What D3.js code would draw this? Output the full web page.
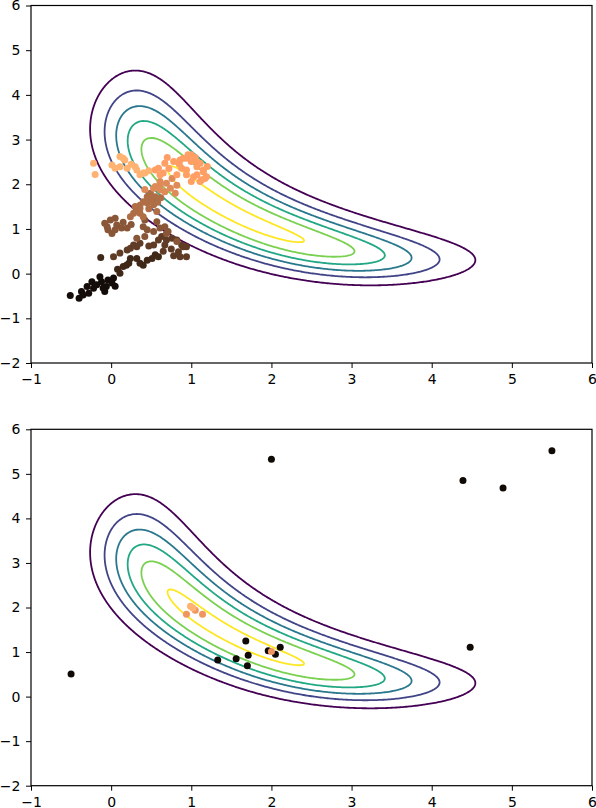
<!DOCTYPE html>
<html>
<head>
<meta charset="utf-8">
<script src="https://cdn.jsdelivr.net/npm/d3@7"></script>
<style>
  body { margin: 0; background: #fff; }
  text { font-family: "DejaVu Sans", sans-serif; }
</style>
</head>
<body>
<svg id="chart" width="596" height="808"></svg>
<script>
// --- axis ticks ---
const xTicks = [-1, 0, 1, 2, 3, 4, 5, 6];
const yTicks = [-2, -1, 0, 1, 2, 3, 4, 5, 6];

// --- target density: banana lying along the line y = x ---
// t runs along the ridge, s across it
const ridgeBase = 2.03;    // s of the ridge at t = 0
const ridgeBend = 0.123;   // s grows with t^2
const widthOuter = 0.48;   // spread across the ridge, away from the origin
const widthInner = 0.465;  // spread across the ridge, towards the origin
const armScale = 2.647;    // quartic fall-off along the ridge
const contourLevels = [0.16, 0.32, 0.48, 0.64, 0.80, 0.96];
const contourColors = ["#440154", "#414487", "#2a788e", "#22a884", "#7ad151", "#fde725"];

// --- top panel: sampler path, grouped by how far along the run (shade 0 = first) ---
const chainShades = [0.06, 0.2, 0.3, 0.43, 0.55, 0.7, 0.8, 0.9];
const chainPoints = [
  // black start
  [[-0.51, -0.49], [-0.40, -0.55], [-0.37, -0.40], [-0.35, -0.48], [-0.30, -0.29], [-0.28, -0.44],
   [-0.24, -0.18], [-0.22, -0.33], [-0.18, -0.25], [-0.14, -0.07], [-0.12, -0.18], [-0.08, -0.40],
   [-0.06, -0.29], [-0.04, -0.14], [0.01, -0.21], [0.03, -0.10], [-0.10, -0.32], [0.05, -0.28]],
  // very dark brown
  [[0.11, 0.01], [0.15, 0.16], [0.19, 0.19], [0.22, 0.23], [0.24, 0.34], [0.32, 0.34], [0.36, 0.23],
   [0.40, 0.19], [0.45, 0.30], [0.51, 0.34], [0.55, 0.42], [0.59, 0.38], [-0.13, 0.36], [0.08, 0.10]],
  // dark brown
  [[0.03, 0.38], [0.11, 0.46], [0.20, 0.53], [0.24, 0.57], [0.28, 0.64], [0.32, 0.60], [0.36, 0.68],
   [0.53, 0.64], [0.59, 0.75], [0.63, 0.83], [0.69, 0.75], [0.67, 0.64], [0.76, 0.79], [0.82, 0.75],
   [0.88, 0.64], [0.94, 0.60], [0.94, 0.38], [0.86, 0.38], [0.84, 0.49], [0.90, 0.60],
   [0.75, 0.55], [0.65, 0.50], [0.47, 0.62], [0.78, 0.40]],
  // medium brown
  [[0.32, 0.79], [0.42, 0.83], [0.71, 0.94], [0.61, 1.02], [0.53, 0.94], [0.45, 0.98], [0.40, 1.05],
   [0.42, 1.20], [0.57, 1.16], [0.67, 1.05], [0.69, 0.90], [0.82, 0.72],
   [-0.08, 1.13], [-0.01, 1.20], [0.05, 1.24], [0.07, 1.09], [0.13, 1.02], [0.20, 1.02],
   [-0.04, 0.98], [0.01, 0.90], [0.05, 0.98], [0.15, 1.15], [0.25, 1.10], [-0.05, 1.05]],
  // light brown
  [[0.24, 1.27], [0.32, 1.42], [0.36, 1.53], [0.40, 1.61], [0.45, 1.72], [0.49, 1.80], [0.55, 1.72],
   [0.57, 1.39], [0.36, 1.35], [0.36, 1.46], [0.40, 1.27], [0.45, 1.58], [0.53, 1.54], [0.51, 1.72],
   [0.30, 1.50], [0.47, 1.45], [0.50, 1.62], [0.58, 1.60], [0.28, 1.35], [0.62, 1.70]],
  // orange
  [[0.53, 1.91], [0.61, 1.98], [0.67, 1.83], [0.74, 1.91], [0.80, 1.80], [0.82, 1.98], [0.55, 1.95],
   [0.61, 1.87], [0.61, 2.06], [0.69, 2.02], [0.76, 2.13], [0.42, 1.88]],
  // light orange, around the mode
  [[0.65, 2.25], [0.55, 2.32], [0.61, 2.21], [0.59, 2.36], [0.67, 2.47], [0.78, 2.51], [0.86, 2.54],
   [0.94, 2.58], [1.00, 2.51], [1.07, 2.39], [1.15, 2.28], [1.19, 2.17], [1.13, 2.10], [1.07, 2.21],
   [0.94, 2.32], [0.82, 2.21], [0.90, 2.58], [0.96, 2.66], [1.00, 2.66], [1.07, 2.51], [1.15, 2.32],
   [1.17, 2.13], [1.11, 2.06], [1.00, 2.06], [0.94, 2.21], [0.88, 2.36], [1.11, 2.47], [1.03, 2.17],
   [0.72, 2.35], [0.70, 2.60], [0.85, 2.45], [1.05, 2.60], [1.20, 2.40]],
  // peach, last part of the run
  [[-0.22, 2.47], [-0.20, 2.22], [0.01, 2.43], [0.05, 2.36], [0.11, 2.62], [0.17, 2.54], [0.11, 2.39],
   [0.15, 2.58], [0.20, 2.36], [0.42, 2.25], [0.36, 2.21], [0.32, 2.32], [0.30, 2.39], [0.40, 2.25],
   [0.25, 2.45], [0.47, 2.30]]
];

// --- bottom panel: selected points ---
const pickShades = [0.05, 0.75, 0.9];
const pickPoints = [
  [[-0.50, 0.51], [5.50, 5.52], [4.39, 4.85], [4.89, 4.68], [4.48, 1.11], [2.00, 5.33],
   [1.68, 1.25], [1.33, 0.82], [1.56, 0.85], [1.71, 0.93], [1.70, 0.69], [2.11, 1.11],
   [2.05, 0.95], [1.96, 1.03]],
  [[0.94, 1.85], [1.14, 1.85], [1.05, 1.94], [2.00, 1.01]],
  [[0.99, 2.03], [1.02, 1.99]]
];

// --- layout ---
const width = 596, height = 808;
const plotLeft = 31, plotRight = 592;
const panels = [
  { top: 5.5, bottom: 363, groups: chainPoints, shades: chainShades },
  { top: 429.3, bottom: 785.7, groups: pickPoints, shades: pickShades }
];

const svg = d3.select("#chart");
const x = d3.scaleLinear().domain([-1, 6]).range([plotLeft, plotRight]);

function copper(v) {
  return d3.rgb(Math.min(1, 1.25 * v) * 255, 0.7812 * v * 255, 0.4975 * v * 255);
}

const minus = d => (d < 0 ? "\u2212" + Math.abs(d) : String(d));

// density grid shared by both panels
const gx0 = -1, gx1 = 6, gy0 = -2, gy1 = 6, step = 0.02;
const nx = Math.round((gx1 - gx0) / step) + 1;
const ny = Math.round((gy1 - gy0) / step) + 1;
const grid = new Float64Array(nx * ny);
for (let j = 0; j < ny; j++) {
  const yy = gy0 + j * step;
  for (let i = 0; i < nx; i++) {
    const xx = gx0 + i * step;
    const t = (xx - yy) / Math.SQRT2;
    const s = (xx + yy) / Math.SQRT2;
    const across = s - ridgeBase - ridgeBend * t * t;
    const w = across > 0 ? widthOuter : widthInner;
    grid[j * nx + i] = Math.exp(-Math.pow(t / armScale, 4) - across * across / (2 * w * w));
  }
}
const contours = d3.contours().size([nx, ny]).thresholds(contourLevels)(grid);

panels.forEach((p, k) => {
  const y = d3.scaleLinear().domain([-2, 6]).range([p.bottom, p.top]);
  const g = svg.append("g");

  const clipId = "clip" + k;
  g.append("clipPath").attr("id", clipId)
    .append("rect")
    .attr("x", plotLeft).attr("y", p.top)
    .attr("width", plotRight - plotLeft).attr("height", p.bottom - p.top);

  const toPlot = d3.geoTransform({
    point: function(cx, cy) {
      this.stream.point(x(gx0 + (cx - 0.5) * step), y(gy0 + (cy - 0.5) * step));
    }
  });
  const path = d3.geoPath(toPlot);

  g.append("g").attr("clip-path", `url(#${clipId})`)
    .selectAll("path")
    .data(contours)
    .enter()
    .append("path")
    .attr("d", path)
    .attr("fill", "none")
    .attr("stroke", (d, i) => contourColors[i])
    .attr("stroke-width", 1.8);

  p.groups.forEach((pts, gi) => {
    g.append("g")
      .selectAll("circle")
      .data(pts)
      .enter()
      .append("circle")
      .attr("cx", d => x(d[0]))
      .attr("cy", d => y(d[1]))
      .attr("r", 3.5)
      .attr("fill", copper(p.shades[gi]));
  });

  // axes
  g.append("g")
    .attr("transform", `translate(0,${p.bottom})`)
    .call(d3.axisBottom(x).tickValues(xTicks).tickSize(5).tickSizeOuter(0).tickPadding(6.5).tickFormat(minus))
    .call(a => a.select(".domain").remove())
    .call(a => a.selectAll("text").attr("font-size", 14).attr("font-family", "DejaVu Sans").attr("fill", "#000"));

  g.append("g")
    .attr("transform", `translate(${plotLeft},0)`)
    .call(d3.axisLeft(y).tickValues(yTicks).tickSize(5).tickSizeOuter(0).tickPadding(5.5).tickFormat(minus))
    .call(a => a.select(".domain").remove())
    .call(a => a.selectAll("text").attr("font-size", 14).attr("font-family", "DejaVu Sans").attr("fill", "#000"));

  g.append("rect")
    .attr("x", plotLeft).attr("y", p.top)
    .attr("width", plotRight - plotLeft).attr("height", p.bottom - p.top)
    .attr("fill", "none").attr("stroke", "#000").attr("stroke-width", 1.2);
});
</script>
</body>
</html>
